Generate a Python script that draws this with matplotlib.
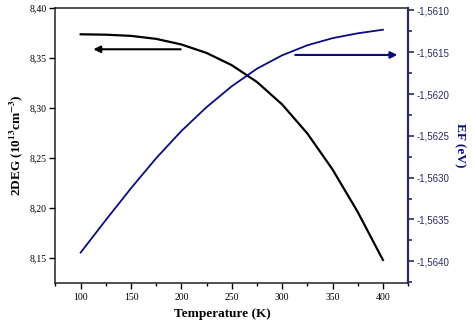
import numpy as np
import matplotlib
matplotlib.use("Agg")
import matplotlib.pyplot as plt
from matplotlib.ticker import MultipleLocator, FuncFormatter

# data
temperature = [100, 125, 150, 175, 200, 225, 250, 275, 300, 325, 350, 375, 400]
deg2 = [8.3737, 8.3733, 8.3721, 8.3691, 8.3635, 8.3550, 8.3428, 8.3260,
        8.3035, 8.2745, 8.2385, 8.1960, 8.1480]
ef = [-1.563896, -1.563506, -1.563126, -1.562766, -1.562441, -1.562156,
      -1.561906, -1.561696, -1.561536, -1.561416, -1.561331, -1.561273,
      -1.561230]

navy = "#0b0b80"
spine_navy = "#2a2a6a"
serif = "Liberation Serif"
sans = "Liberation Sans"
plt.rcParams["mathtext.fontset"] = "stix"

fig = plt.figure(figsize=(4.74, 3.26), dpi=100)
ax = fig.add_axes([0.116, 0.132, 0.745, 0.8435])
ax2 = ax.twinx()

# left axis: 2DEG
ax.plot(temperature, deg2, color="black", lw=1.6)
ax.set_xlim(74.5, 425)
ax.set_ylim(8.125, 8.40)
ax.xaxis.set_major_locator(MultipleLocator(50))
ax.xaxis.set_minor_locator(MultipleLocator(25))
ax.yaxis.set_major_locator(MultipleLocator(0.05))
ax.yaxis.set_major_formatter(FuncFormatter(lambda v, p: f"{v:.2f}".replace(".", ",")))
ax.tick_params(axis="x", which="major", direction="out", length=4, width=1,
               labelsize=7, pad=3)
ax.tick_params(axis="x", which="minor", direction="out", length=2.5, width=1)
ax.tick_params(axis="y", which="major", direction="out", length=4, width=1,
               labelsize=7, pad=2)
for lab in ax.get_xticklabels() + ax.get_yticklabels():
    lab.set_fontfamily(serif)
ax.set_xlabel("Temperature (K)", fontfamily=serif, fontweight="bold",
              fontsize=9.5, labelpad=4)
ax.xaxis.set_label_coords(0.473, -0.09)
ax.set_ylabel(r"2DEG (10$^{\mathbf{13}}$cm$^{\mathbf{-3}}$)", fontfamily=serif,
              fontweight="bold", fontsize=9.5, labelpad=3)
ax.spines["right"].set_visible(False)
for s in ["left", "bottom", "top"]:
    ax.spines[s].set_linewidth(1.1)
    ax.spines[s].set_color("#222222")

# right axis: Fermi level
ax2.plot(temperature, ef, color=navy, lw=1.3)
ax2.set_ylim(-1.56426, -1.56097)
ax2.yaxis.set_major_locator(MultipleLocator(0.0005))
ax2.yaxis.set_minor_locator(MultipleLocator(0.00025))
ax2.yaxis.set_major_formatter(FuncFormatter(lambda v, p: f"{v:.4f}".replace(".", ",")))
ax2.tick_params(axis="y", which="major", direction="out", length=4, width=1.2,
                colors=spine_navy, labelsize=7, pad=2)
ax2.tick_params(axis="y", which="minor", direction="out", length=3, width=1.2,
                colors=spine_navy)
for lab in ax2.get_yticklabels():
    lab.set_fontfamily(sans)
ax2.set_ylabel("EF (eV)", fontfamily=serif, fontweight="bold", fontsize=9.5,
               color=navy, rotation=270, labelpad=12)
for s in ["left", "bottom", "top"]:
    ax2.spines[s].set_visible(False)
ax2.spines["right"].set_color(spine_navy)
ax2.spines["right"].set_linewidth(1.6)

# arrows pointing to the axes
ax.annotate("", xy=(112.6, 8.3587), xytext=(199.3, 8.3587),
            arrowprops=dict(arrowstyle="-|>", color="black", lw=1.5,
                            mutation_scale=10, shrinkA=0, shrinkB=0))
ax2.annotate("", xy=(414.3, -1.561532), xytext=(313.0, -1.561532),
             arrowprops=dict(arrowstyle="-|>", color=navy, lw=1.5,
                             mutation_scale=10, shrinkA=0, shrinkB=0))

fig.savefig("out.png", dpi=100)
